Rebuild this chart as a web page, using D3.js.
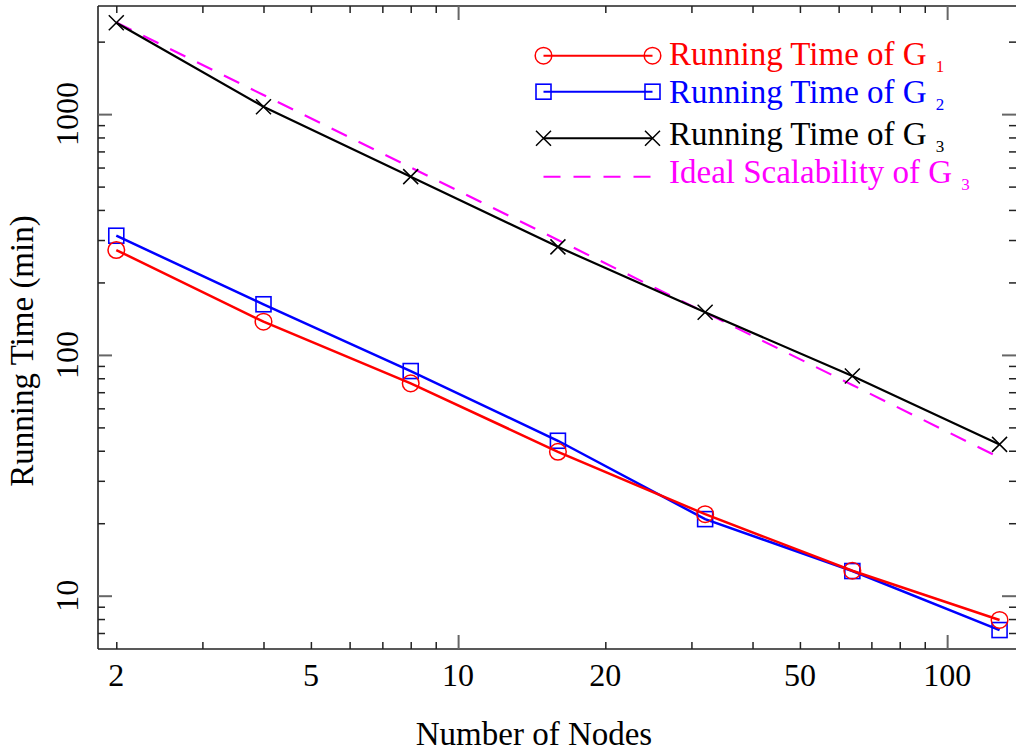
<!DOCTYPE html>
<html>
<head>
<meta charset="utf-8">
<script src="https://cdn.jsdelivr.net/npm/d3@7"></script>
<style>
html,body{margin:0;padding:0;background:#fff;}
svg{display:block;}
text{font-family:"Liberation Serif","Times New Roman",serif;}
</style>
</head>
<body>
<svg id="chart" width="1016" height="751"></svg>
<script>
// ---- data ----
const nodes = [2, 4, 8, 16, 32, 64, 128];
const g1 = [272.7, 137.4, 76.2, 39.6, 21.8, 12.7, 7.93];
const g2 = [312.6, 162.3, 85.7, 44.0, 20.8, 12.66, 7.20];
const g3 = [2397, 1073, 550, 281, 150.3, 81.7, 42.5];
const ideal = [2400, 1200, 600, 300, 150, 75, 37.5];
const xTickLabels = [2, 5, 10, 20, 50, 100];
const yTickLabels = [10, 100, 1000];
const xMinorTicks = [2,3,4,5,6,7,8,9,20,30,40,50,60,70,80,90];
const xMajorTicks = [10, 100];
const yMinorTicks = [7,8,9,20,30,40,50,60,70,80,90,200,300,400,500,600,700,800,900,2000];
const yMajorTicks = [10, 100, 1000];
const legendLabels = ["Running Time of G", "Running Time of G", "Running Time of G", "Ideal Scalability of G"];
const legendSubs = ["1", "2", "3", "3"];
const xTitle = "Number of Nodes";
const yTitle = "Running Time (min)";

// ---- layout ----
const L = 98, R = 1016, T = 6, B = 649;
const svg = d3.select("#chart");
const x = d3.scaleLog().domain([1.835, 138.3]).range([L, R]);
const y = d3.scaleLog().domain([6.007, 2812]).range([B, T]);

// frame (right edge falls just outside the picture)
const frame = svg.append("g").attr("stroke", "#222").attr("stroke-width", 1.6).attr("fill", "none");
frame.append("line").attr("x1", L).attr("x2", L).attr("y1", T).attr("y2", B);
frame.append("line").attr("x1", L).attr("x2", R).attr("y1", B).attr("y2", B);
frame.append("line").attr("x1", L).attr("x2", R).attr("y1", T).attr("y2", T);

// axes via d3 axis generators (ticks inward)
function tickAxis(gen, ticks, size, color, width, transform) {
  const g = svg.append("g").attr("transform", transform)
    .call(gen.tickValues(ticks).tickSize(size).tickFormat(""));
  g.select(".domain").remove();
  g.selectAll(".tick line").attr("stroke", color).attr("stroke-width", width);
  return g;
}
tickAxis(d3.axisTop(x), xMinorTicks, 7, "#222", 1.5, `translate(0,${B})`);
tickAxis(d3.axisTop(x), xMajorTicks, 14, "#666", 2, `translate(0,${B})`);
tickAxis(d3.axisBottom(x), xMinorTicks, 7, "#222", 1.5, `translate(0,${T})`);
tickAxis(d3.axisBottom(x), xMajorTicks, 14, "#666", 2, `translate(0,${T})`);
tickAxis(d3.axisRight(y), yMinorTicks, 7, "#222", 1.5, `translate(${L},0)`);
tickAxis(d3.axisRight(y), yMajorTicks, 14, "#666", 2, `translate(${L},0)`);
tickAxis(d3.axisLeft(y), yMinorTicks, 7, "#222", 1.5, `translate(${R},0)`);
tickAxis(d3.axisLeft(y), yMajorTicks, 14, "#666", 2, `translate(${R},0)`);

// tick labels
svg.append("g").selectAll("text").data(xTickLabels).join("text")
  .attr("x", d => x(d)).attr("y", 686)
  .attr("text-anchor", "middle").attr("font-size", 32).attr("fill", "#000")
  .text(d => d);
svg.append("g").selectAll("text").data(yTickLabels).join("text")
  .attr("transform", d => `translate(78,${y(d)}) rotate(-90)`)
  .attr("text-anchor", "middle").attr("font-size", 32).attr("fill", "#000")
  .text(d => d);

// axis titles
svg.append("text").attr("x", 534).attr("y", 745).attr("text-anchor", "middle")
  .attr("font-size", 33).attr("fill", "#000").text(xTitle);
svg.append("text").attr("transform", "translate(33,351) rotate(-90)").attr("text-anchor", "middle")
  .attr("font-size", 33).attr("fill", "#000").text(yTitle);

// series
const series = [
  {vals: g1, color: "#ff0000", width: 2.5, marker: "circle", dash: null},
  {vals: g2, color: "#0000ff", width: 2.5, marker: "square", dash: null},
  {vals: g3, color: "#000000", width: 2.2, marker: "cross", dash: null},
  {vals: ideal, color: "#ff00ff", width: 2.2, marker: null, dash: "17,13"}
];
const line = d3.line().x(d => x(d[0])).y(d => y(d[1]));

function drawMarker(g, type, cx, cy, color) {
  if (type === "circle") {
    g.append("circle").attr("cx", cx).attr("cy", cy).attr("r", 8.3)
      .attr("fill", "none").attr("stroke", color).attr("stroke-width", 1.5);
  } else if (type === "square") {
    g.append("rect").attr("x", cx - 7.5).attr("y", cy - 7.5).attr("width", 15).attr("height", 15)
      .attr("fill", "none").attr("stroke", color).attr("stroke-width", 1.6);
  } else if (type === "cross") {
    g.append("path").attr("d", `M${cx-7.5},${cy-7.5}L${cx+7.5},${cy+7.5}M${cx-7.5},${cy+7.5}L${cx+7.5},${cy-7.5}`)
      .attr("fill", "none").attr("stroke", color).attr("stroke-width", 1.5);
  }
}

[3, 2, 1, 0].forEach(i => {
  const s = series[i];
  const pts = nodes.map((n, j) => [n, s.vals[j]]);
  svg.append("path").datum(pts).attr("d", line)
    .attr("fill", "none").attr("stroke", s.color).attr("stroke-width", s.width)
    .attr("stroke-dasharray", s.dash);
  if (s.marker) {
    const g = svg.append("g");
    pts.forEach(p => drawMarker(g, s.marker, x(p[0]), y(p[1]), s.color));
  }
});

// legend
const lineY = [55.7, 91.7, 138.3, 176.7];
const textY = [65, 103, 145, 183];
const lg = svg.append("g");
series.forEach((s, i) => {
  lg.append("line").attr("x1", 543.5).attr("x2", 652.5).attr("y1", lineY[i]).attr("y2", lineY[i])
    .attr("stroke", s.color).attr("stroke-width", 2).attr("stroke-dasharray", s.dash);
  if (s.marker) {
    drawMarker(lg, s.marker, 543.5, lineY[i], s.color);
    drawMarker(lg, s.marker, 652.5, lineY[i], s.color);
  }
  const t = lg.append("text").attr("x", 669).attr("y", textY[i]).attr("font-size", 33).attr("fill", s.color);
  t.append("tspan").text(legendLabels[i]);
  t.append("tspan").attr("dx", 9).attr("dy", 7).attr("font-size", 17).text(legendSubs[i]);
});
</script>
</body>
</html>
